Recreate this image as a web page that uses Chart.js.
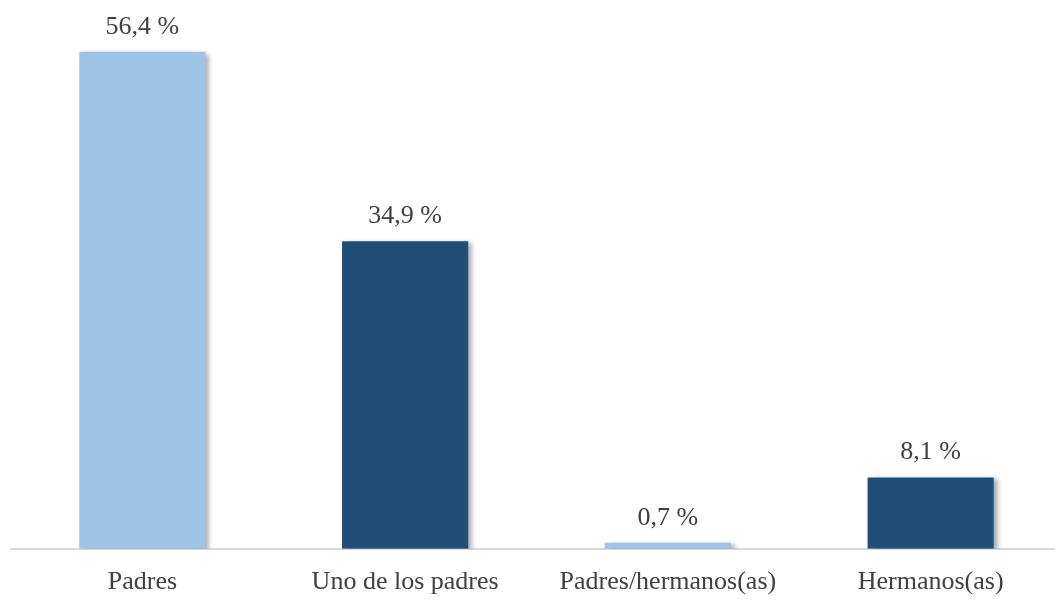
<!DOCTYPE html>
<html>
<head>
<meta charset="utf-8">
<script src="https://cdn.jsdelivr.net/npm/chart.js@4"></script>
<style>
html,body{margin:0;padding:0;background:#fff;overflow:hidden;width:1055px;height:604px;}
#wrap{width:1062px;height:623px;position:relative;}
</style>
</head>
<body>
<div id="wrap"><canvas id="c"></canvas></div>
<script>
const categories = ["Padres", "Uno de los padres", "Padres/hermanos(as)", "Hermanos(as)"];
const values = [56.4, 34.9, 0.7, 8.1];
const valueLabels = ["56,4 %", "34,9 %", "0,7 %", "8,1 %"];
const barColors = ["#9DC3E6", "#1F4E79", "#9DC3E6", "#1F4E79"];

const FONT = "'Liberation Serif', 'Times New Roman', serif";

const shadowPlugin = {
  id: 'shadow',
  beforeDatasetsDraw(chart) {
    const ctx = chart.ctx;
    ctx.save();
    ctx.shadowColor = 'rgba(0,0,0,0.35)';
    ctx.shadowBlur = 5;
    ctx.shadowOffsetX = 4;
    ctx.shadowOffsetY = 2;
  },
  afterDatasetsDraw(chart) {
    chart.ctx.restore();
  }
};

const labelPlugin = {
  id: 'valueLabels',
  afterDatasetsDraw(chart) {
    const ctx = chart.ctx;
    const meta = chart.getDatasetMeta(0);
    ctx.save();
    ctx.shadowColor = 'transparent';
    ctx.font = "26px " + FONT;
    ctx.fillStyle = '#404040';
    ctx.textAlign = 'center';
    ctx.textBaseline = 'alphabetic';
    meta.data.forEach((bar, i) => {
      ctx.fillText(valueLabels[i], bar.x, bar.y - 18);
    });
    ctx.restore();
  }
};

new Chart(document.getElementById('c'), {
  type: 'bar',
  data: {
    labels: categories,
    datasets: [{
      data: values,
      backgroundColor: barColors,
      borderWidth: 0,
      categoryPercentage: 1.0,
      barPercentage: 0.48
    }]
  },
  options: {
    responsive: true,
    maintainAspectRatio: false,
    animation: false,
    layout: { padding: { top: 20, bottom: 7, left: 11, right: 0 } },
    plugins: { legend: { display: false }, tooltip: { enabled: false } },
    scales: {
      y: { display: false, min: 0, max: 60 },
      x: {
        grid: { display: false, drawTicks: false },
        border: { display: true, color: '#D9D9D9', width: 2 },
        ticks: { color: '#404040', font: { family: FONT, size: 26 }, padding: 18, maxRotation: 0, autoSkip: false }
      }
    }
  },
  plugins: [shadowPlugin, labelPlugin]
});
</script>
</body>
</html>
